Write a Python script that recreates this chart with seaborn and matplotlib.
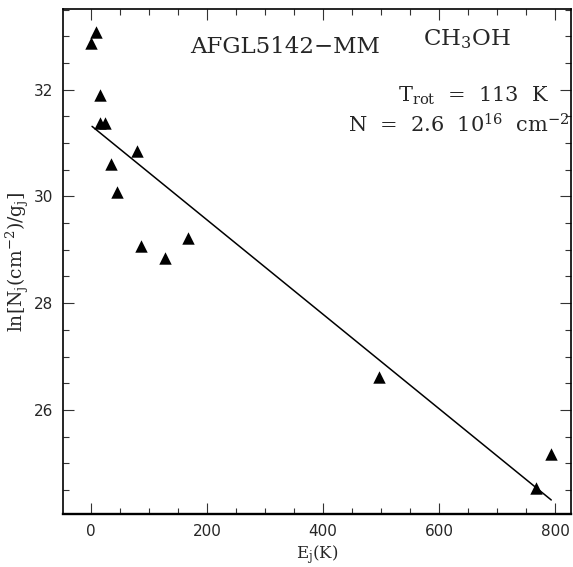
import numpy as np
import pandas as pd
import matplotlib
matplotlib.use("Agg")
import matplotlib.pyplot as plt
import seaborn as sns
from matplotlib.ticker import MultipleLocator

# ---- data ----
E_up = [0, 8.6, 15.5, 15.5, 24.1, 34.5, 45.4, 78.7, 85.6, 127.6, 166.7, 496.5, 766.0, 793.0]
lnN = [32.88, 33.08, 31.90, 31.37, 31.37, 30.60, 30.09, 30.85, 29.08, 28.84, 29.23, 26.62, 24.53, 25.17]
T_rot = 113.0          # K
intercept = 31.33      # ln(N/g) at E=0
fit_E = [2.0, 793.0]

source = "AFGL5142\u2212MM"
molecule = r"CH$_3$OH"
trot_text = r"T$_{\rm rot}$  =  113  K"
ncol_text = r"N  =  2.6  10$^{16}$  cm$^{-2}$"

sns.set_theme(style="ticks")
plt.rcParams["font.family"] = ["DejaVu Serif", "DejaVu Sans"]
plt.rcParams["mathtext.fontset"] = "dejavuserif"
plt.rcParams["mathtext.default"] = "regular"

df = pd.DataFrame({"E": E_up, "lnN": lnN})
fit = pd.DataFrame({"E": fit_E, "lnN": [intercept - e / T_rot for e in fit_E]})

fig = plt.figure(figsize=(5.73, 5.67), dpi=100)
ax = fig.add_axes([0.110, 0.0935, 0.8865, 0.8905])

sns.lineplot(data=fit, x="E", y="lnN", ax=ax, color="black", linewidth=1.1)
sns.scatterplot(data=df, x="E", y="lnN", ax=ax, marker="^", s=80,
                color="black", linewidth=0, zorder=3)

ax.set_xlim(-48, 827)
ax.set_ylim(24.05, 33.51)
ax.xaxis.set_major_locator(MultipleLocator(200))
ax.xaxis.set_minor_locator(MultipleLocator(50))
ax.yaxis.set_major_locator(MultipleLocator(2))
ax.yaxis.set_minor_locator(MultipleLocator(0.5))
ax.tick_params(which="both", direction="in", top=True, right=True,
               color="#333333", width=0.8)
ax.tick_params(which="major", length=8, labelsize=11, pad=7)
ax.tick_params(which="minor", length=4.5)
for lab in ax.get_xticklabels() + ax.get_yticklabels():
    lab.set_family("DejaVu Sans")

for sp in ax.spines.values():
    sp.set_linewidth(1.2)
    sp.set_color("black")
ax.spines["bottom"].set_linewidth(1.7)

ax.set_xlabel(r"E$_j$(K)", fontsize=12, labelpad=3)
ax.set_ylabel(r"ln[N$_j$(cm$^{-2}$)/g$_j$]", fontsize=13.5, labelpad=2)

ax.text(0.437, 0.925, source, transform=ax.transAxes, fontsize=16.5,
        ha="center", va="center")
ax.text(0.795, 0.94, molecule, transform=ax.transAxes, fontsize=16.5,
        ha="center", va="center")
ax.text(0.958, 0.829, trot_text, transform=ax.transAxes, fontsize=15,
        ha="right", va="center")
ax.text(0.998, 0.771, ncol_text, transform=ax.transAxes, fontsize=15,
        ha="right", va="center")

fig.savefig("out.png", dpi=100)
